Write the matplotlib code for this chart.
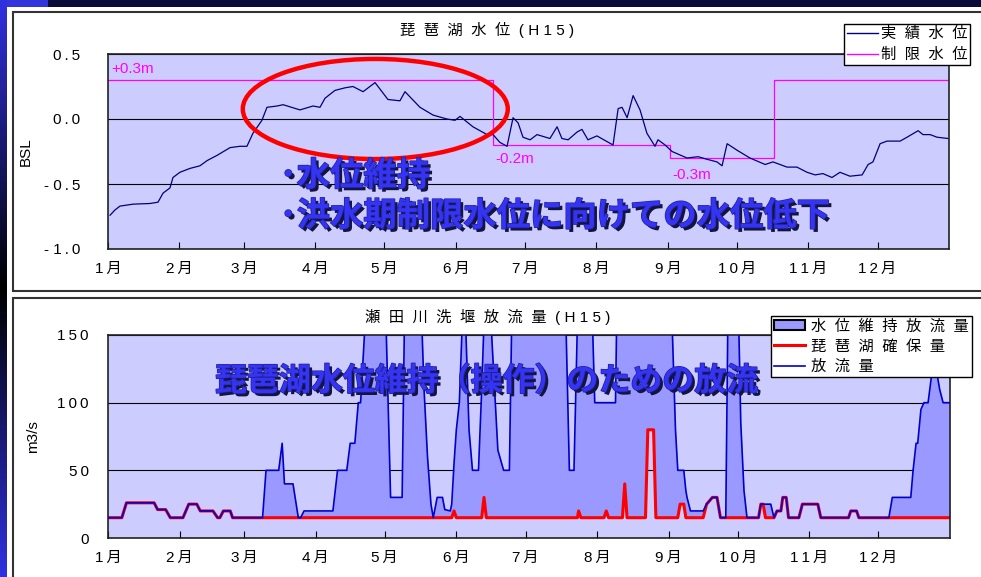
import numpy as np
import matplotlib.pyplot as plt
import matplotlib.patches as mpatches
import matplotlib.patheffects as pe
from matplotlib.lines import Line2D

plt.rcParams['font.family'] = ['Liberation Sans', 'Noto Sans CJK JP', 'DejaVu Sans']

W, H = 981, 577
THIN = '\u2009'


def fx(x):
    return x / W


def fy(y):
    return 1 - y / H


def sp(s, gap=THIN):
    # excel style letter spacing
    return gap.join(s)


###### DATA
months = ['1月', '2月', '3月', '4月', '5月', '6月', '7月', '8月', '9月', '10月', '11月', '12月']
month_start = [0, 31, 59, 90, 120, 151, 181, 212, 243, 273, 304, 334]

# 琵琶湖水位 (BSL, m) -- day of year
level_day = [0.9, 3.0, 5.2, 10.9, 18.2, 21.7, 23.9, 26.9, 28.2, 31.2,
             35.6, 39.9, 43.0, 47.3, 53.0, 57.3, 60.3, 62.9, 66.8, 69.0,
             73.4, 76.0, 83.3, 89.0, 92.0, 94.2, 98.5, 102.9, 106.3, 110.7,
             115.9, 121.5, 126.7, 128.9, 135.4, 141.1, 147.1, 150.6, 152.8, 158.4,
             164.5, 167.1, 170.1, 173.2, 175.8, 178.0, 180.1, 183.2, 186.2, 191.8,
             194.9, 197.0, 199.7, 203.6, 205.7, 208.3, 212.2, 219.2, 221.4, 223.1,
             225.3, 227.9, 230.9, 233.9, 237.4, 238.7, 241.8, 244.8, 251.3, 256.1,
             260.0, 264.3, 266.5, 268.7, 273.0, 278.6, 285.2, 288.6, 294.7, 299.0,
             303.4, 306.9, 310.3, 314.2, 317.7, 322.0, 327.3, 329.9, 332.0, 335.1,
             338.1, 343.8, 346.8, 351.6, 353.7, 356.8, 359.8, 364.6]
level_bsl = [-0.74, -0.70, -0.67, -0.655, -0.65, -0.64, -0.57, -0.53, -0.45, -0.41,
             -0.38, -0.36, -0.32, -0.28, -0.22, -0.21, -0.21, -0.11, -0.01, 0.09,
             0.10, 0.11, 0.07, 0.10, 0.09, 0.16, 0.22, 0.24, 0.25, 0.21,
             0.28, 0.15, 0.14, 0.21, 0.09, 0.03, 0.00, -0.01, 0.02, -0.06,
             -0.12, -0.12, -0.18, -0.21, 0.01, -0.03, -0.14, -0.16, -0.12, -0.15,
             -0.06, -0.15, -0.16, -0.10, -0.08, -0.16, -0.13, -0.20, 0.08, 0.09,
             0.01, 0.18, 0.07, -0.11, -0.21, -0.16, -0.20, -0.25, -0.30, -0.29,
             -0.31, -0.33, -0.36, -0.19, -0.24, -0.30, -0.35, -0.33, -0.37, -0.37,
             -0.41, -0.43, -0.42, -0.45, -0.41, -0.44, -0.43, -0.35, -0.33, -0.19,
             -0.17, -0.17, -0.14, -0.09, -0.12, -0.12, -0.14, -0.15]

# 制限水位 (step)
limit_day = [0, 167, 244, 289, 365]
limit_bsl = [0.3, -0.2, -0.3, 0.3, 0.3]
limit_labels = ['+0.3m', '-0.2m', '-0.3m']

# 瀬田川洗堰放流量 (m3/s); 160 = off the top of the chart
flow_day = [0, 6, 8, 20, 21.5, 25, 27, 32.5, 35, 38.5,
            40, 45.5, 47.5, 48.5, 50, 53, 54, 67, 68.5, 74,
            75.5, 76.5, 80.2, 82.5, 83.5, 85, 97.5, 99.5, 103.5, 105,
            107, 108.5, 109.5, 111.5, 120.5, 122.5, 127.5, 128.5, 136, 137,
            138.5, 140, 141, 142.7, 145, 146, 148.4, 149, 150, 151,
            152.3, 153.6, 155, 156.5, 158, 160.6, 162, 163, 164, 166,
            169, 171.5, 174, 175, 198.5, 200, 202, 203.5, 204, 205,
            210, 211, 215, 216, 217, 220, 220.5, 223, 224, 225,
            233, 234, 236.5, 237.5, 244.5, 246, 247, 248, 249.6, 250.5,
            251, 252.5, 258, 259.5, 262, 264, 265.5, 267.8, 268.7, 273.4,
            274.3, 275.7, 277, 282, 283, 284, 285, 287.3, 288.7, 290,
            291.7, 292.5, 294, 295, 299.5, 301, 307.7, 309, 321, 322,
            324.5, 325.5, 338.5, 340, 348, 349, 350.3, 351, 352.4, 353.7,
            355.5, 357, 359, 360.5, 362, 365]
flow_out = [15, 15, 26, 26, 21, 21, 15, 15, 25, 25,
            20, 20, 15, 15, 20, 20, 15, 15, 50, 50,
            70, 40, 40, 15, 15, 20, 20, 50, 50, 70,
            70, 100, 100, 160, 160, 30, 30, 160, 160, 110,
            60, 25, 15, 30, 30, 21, 20, 25, 55, 80,
            100, 160, 160, 80, 50, 50, 110, 160, 160, 160,
            65, 50, 50, 160, 160, 50, 50, 160, 160, 160,
            160, 100, 100, 100, 100, 100, 160, 160, 160, 160,
            160, 160, 160, 160, 160, 80, 50, 50, 50, 35,
            30, 20, 20, 25, 30, 30, 15, 15, 160, 160,
            85, 35, 15, 15, 25, 25, 25, 25, 15, 20,
            20, 30, 30, 15, 15, 25, 25, 15, 15, 20,
            20, 15, 15, 30, 30, 50, 70, 70, 95, 100,
            100, 120, 125, 110, 100, 100]
flow_keep = [15, 15, 26, 26, 21, 21, 15, 15, 25, 25,
             20, 20, 15, 15, 20, 20, 15, 15, 15, 15,
             15, 15, 15, 15, 15, 15, 15, 15, 15, 15,
             15, 15, 15, 15, 15, 15, 15, 15, 15, 15,
             15, 15, 15, 15, 15, 15, 15, 15, 20, 15,
             15, 15, 15, 15, 15, 15, 15, 30, 15, 15,
             15, 15, 15, 15, 15, 15, 15, 15, 20, 15,
             15, 15, 15, 20, 15, 15, 15, 15, 40, 15,
             15, 80, 80, 15, 15, 15, 15, 25, 25, 15,
             15, 15, 15, 25, 30, 30, 15, 15, 15, 15,
             15, 15, 15, 15, 25, 25, 15, 15, 15, 20,
             20, 30, 30, 15, 15, 25, 25, 15, 15, 20,
             20, 15, 15, 15, 15, 15, 15, 15, 15, 15,
             15, 15, 15, 15, 15, 15]

BG = '#ccccff'
FILL = '#9999ff'
MAGENTA = '#ff00ff'
BIG_BLUE = '#3434f2'

###### FIGURE
fig = plt.figure(figsize=(W / 100, H / 100), dpi=100)

# left gradient strip of the slide
strip = fig.add_axes([0, 0, fx(7), 1])
t = np.linspace(0, 1, 300)
k = np.abs(t - 0.5) * 2
grad = k[:, None, None] * np.array([0.19, 0.19, 0.88])[None, None, :]
strip.imshow(grad, aspect='auto', extent=[0, 1, 0, 1])
strip.axis('off')

# slide title bar (cut off)
fig.add_artist(mpatches.Rectangle((0, fy(7)), 1, 7 / H, fc='#0b0b3a', ec='none',
                                  transform=fig.transFigure, zorder=-2))
fig.add_artist(mpatches.Rectangle((0, fy(7)), fx(48), 7 / H, fc='#3434dc', ec='none',
                                  transform=fig.transFigure, zorder=-2))

# chart panels
fig.add_artist(mpatches.Rectangle((fx(13), fy(291)), 1, (291 - 12) / H, fc='white',
                                  ec='#333333', lw=1.5, transform=fig.transFigure, zorder=-1))
fig.add_artist(mpatches.Rectangle((fx(13), fy(620)), 1, (620 - 298) / H, fc='white',
                                  ec='#333333', lw=1.5, transform=fig.transFigure, zorder=-1))

ax1 = fig.add_axes([fx(108), fy(249), (949 - 108) / W, (249 - 54) / H])
ax2 = fig.add_axes([fx(108), fy(538), (950 - 108) / W, (538 - 335) / H])

for ax in (ax1, ax2):
    ax.set_facecolor(BG)
    ax.set_xlim(0, 365)
    ax.set_xticks(month_start)
    ax.set_xticklabels([sp(m) for m in months], fontsize=11)
    ax.tick_params(axis='x', direction='in', length=5, width=0.8, pad=9)
    ax.tick_params(axis='y', length=0, labelsize=11)
    ax.yaxis.grid(True, color='black', lw=0.8)
    ax.set_axisbelow(True)
    for s in ax.spines.values():
        s.set_linewidth(1.2)
        s.set_color('#222222')

# ---- top: lake level
ax1.set_ylim(-1.0, 0.5)
ax1.set_yticks([-1.0, -0.5, 0.0, 0.5])
ax1.set_yticklabels(['-' + ' ' + sp('1.0'), '-' + ' ' + sp('0.5'), sp('0.0'), sp('0.5')])
ax1.tick_params(axis='y', pad=20)
ax1.plot(limit_day, limit_bsl, drawstyle='steps-post', color=MAGENTA, lw=0.9)
ax1.plot(level_day, level_bsl, color='#000080', lw=0.9)
ax1.set_ylabel('BSL', fontsize=11)
ax1.yaxis.set_label_coords(-0.090, 0.5)

ax1.text(1.3, 0.385, limit_labels[0], color=MAGENTA, fontsize=11, va='center')
ax1.text(168, -0.31, limit_labels[1], color=MAGENTA, fontsize=11, va='center')
ax1.text(244.8, -0.43, limit_labels[2], color=MAGENTA, fontsize=11, va='center')

ax1.add_patch(mpatches.Ellipse((116, 0.077), 115, 0.77, fill=False, ec='#ff0000',
                               lw=3.2, clip_on=False, zorder=5))

fig.text(0.497, fy(30), sp('琵琶湖水位', '  ') + '  ' + sp('(H15)', ' '), ha='center',
         va='center', fontsize=11)

leg1 = fig.legend(handles=[Line2D([], [], color='#000080', lw=1),
                           Line2D([], [], color=MAGENTA, lw=1)],
                  labels=[sp('実績水位', '  '), sp('制限水位', '  ')],
                  loc='upper left', bbox_to_anchor=(fx(844), fy(24)), fontsize=11,
                  fancybox=False, edgecolor='black', framealpha=1, borderpad=0.2,
                  labelspacing=0.45, handlelength=2.0, handletextpad=0.2, borderaxespad=0)
leg1.get_frame().set_linewidth(1.0)

# ---- bottom: outflow
ax2.set_ylim(0, 150)
ax2.set_yticks([0, 50, 100, 150])
ax2.set_yticklabels([sp(str(v)) for v in [0, 50, 100, 150]])
ax2.tick_params(axis='y', pad=14)
ax2.fill_between(flow_day, flow_keep, flow_out, color=FILL, lw=0, zorder=1)
ax2.plot(flow_day, flow_keep, color='#ff0000', lw=2.2, zorder=2)
ax2.plot(flow_day, flow_out, color='#0000cc', lw=1.2, zorder=3)
ax2.set_ylabel('m3/s', fontsize=11)
ax2.yaxis.set_label_coords(-0.081, 0.5)

fig.text(0.497, fy(317), sp('瀬田川洗堰放流量', '  ') + '  ' + sp('(H15)', ' '), ha='center',
         va='center', fontsize=11)

leg2 = fig.legend(handles=[mpatches.Patch(fc=FILL, ec='black', lw=1.5),
                           Line2D([], [], color='#ff0000', lw=2.2),
                           Line2D([], [], color='#0000cc', lw=1.2)],
                  labels=[sp('水位維持放流量', '  '), sp('琵琶湖確保量', '  '), sp('放流量', '  ')],
                  loc='upper left', bbox_to_anchor=(fx(771), fy(316)), fontsize=11,
                  fancybox=False, edgecolor='black', framealpha=1, borderpad=0.2,
                  labelspacing=0.4, handlelength=2.0, handleheight=0.65,
                  handletextpad=0.4, borderaxespad=0)
leg2.get_frame().set_linewidth(1.0)

# ---- big callout texts
fx_big = [pe.SimplePatchShadow(offset=(2.2, -2.2), shadow_rgbFace='#141440', alpha=1.0),
          pe.Stroke(linewidth=1.0, foreground='#20209a'), pe.Normal()]
big = dict(color=BIG_BLUE, weight='bold', va='center', ha='left', path_effects=fx_big,
           zorder=10)
fig.text(fx(280), fy(177), '･水位維持', fontsize=24, **big)
fig.text(fx(280), fy(217), '･洪水期制限水位に向けての水位低下', fontsize=24, **big)
fig.text(fx(215), fy(382), '琵琶湖水位維持（操作）のための放流', fontsize=23, **big)

fig.savefig('out.png', dpi=100)
